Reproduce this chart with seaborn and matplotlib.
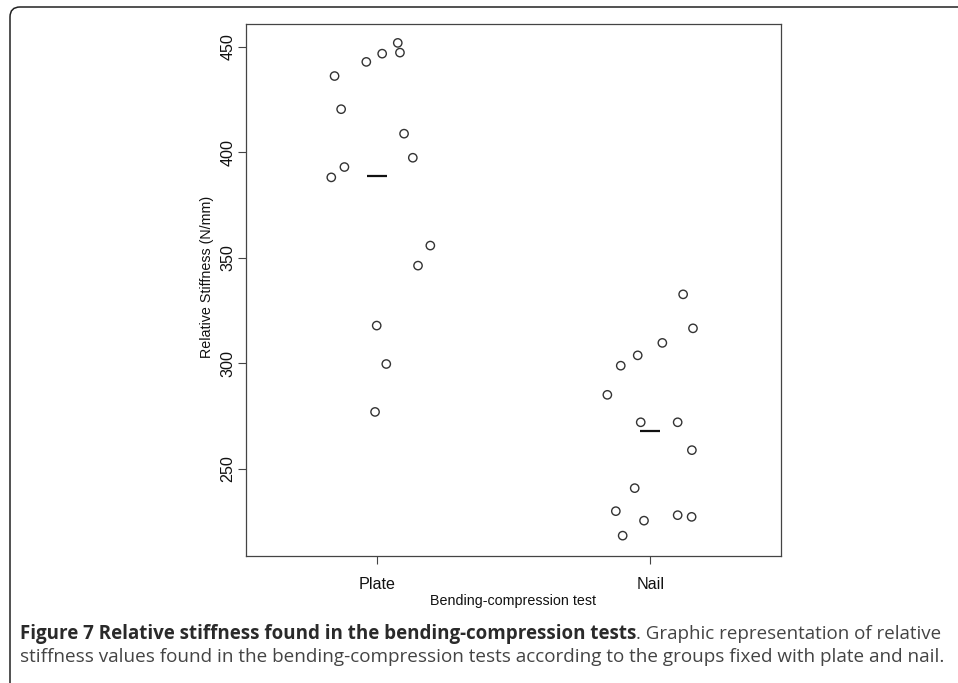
import numpy as np
import pandas as pd
import matplotlib
matplotlib.use("Agg")
import matplotlib.pyplot as plt
import seaborn as sns
from matplotlib import font_manager
from matplotlib.patches import FancyBboxPatch
from matplotlib.transforms import IdentityTransform

# ---------------- data ----------------
categories = ["Plate", "Nail"]
plate_values = [451.8, 446.7, 447.2, 442.8, 436.1, 420.4, 408.8, 397.4,
                393.0, 388.1, 355.8, 346.3, 317.9, 299.7, 277.0]
plate_jitter = [0.077, 0.020, 0.085, -0.038, -0.154, -0.130, 0.100, 0.132,
                -0.118, -0.166, 0.196, 0.151, 0.000, 0.035, -0.006]
nail_values = [332.7, 316.6, 309.7, 303.8, 298.9, 285.1, 272.1, 272.1,
               258.9, 240.9, 230.0, 225.5, 228.1, 227.3, 218.4]
nail_jitter = [0.120, 0.156, 0.044, -0.046, -0.108, -0.157, -0.035, 0.100,
               0.152, -0.057, -0.126, -0.023, 0.100, 0.151, -0.101]
y_ticks = [250, 300, 350, 400, 450]
y_label = "Relative Stiffness (N/mm)"
x_label = "Bending-compression test"
caption_bold = "Figure 7 Relative stiffness found in the bending-compression tests"
caption_rest1 = ". Graphic representation of relative"
caption_line2 = ("stiffness values found in the bending-compression tests according "
                 "to the groups fixed with plate and nail.")

# ---------------- table ----------------
df = pd.DataFrame({
    "group": ["Plate"] * len(plate_values) + ["Nail"] * len(nail_values),
    "stiffness": plate_values + nail_values,
    "jitter": plate_jitter + nail_jitter,
})
df["code"] = df["group"].map({c: i + 1 for i, c in enumerate(categories)})
df["pos"] = df["code"] + df["jitter"]
means = df.groupby("code")["stiffness"].mean()

# ---------------- style ----------------
sns.set_style("white")
plt.rcParams["font.family"] = ["Liberation Sans", "DejaVu Sans"]

W, H = 958, 683
fig = plt.figure(figsize=(W / 100, H / 100), dpi=100)
ax = fig.add_axes([246 / W, 1 - 555.7 / H, (781 - 246) / W, (555.7 - 24) / H])

ink = "#333333"
sns.scatterplot(data=df, x="pos", y="stiffness", ax=ax, marker="o", s=36,
                facecolor="none", edgecolor=ink, linewidth=1.0, legend=False)

ax.hlines(means.values, means.index - 0.036, means.index + 0.036,
          color="#111111", linewidth=1.6)

ax.set_xlim(0.5223, 2.4777)
ax.set_ylim(208.9, 460.75)
ax.set_xticks(range(1, len(categories) + 1))
ax.set_xticklabels(categories)
ax.set_yticks(y_ticks)
ax.set_yticklabels([str(v) for v in y_ticks], rotation=90, va="center")

for sp in ax.spines.values():
    sp.set_visible(True)
    sp.set_color("#444444")
    sp.set_linewidth(0.9)

ax.tick_params(axis="both", which="major", direction="out", length=5.5,
               width=0.8, color="#444444", labelsize=11.6, labelcolor="#111111",
               bottom=True, left=True, top=False, right=False)
ax.tick_params(axis="y", pad=2.0)
ax.tick_params(axis="x", pad=9.5)

ax.set_xlabel(x_label, fontsize=10.3, color="#111111")
ax.set_ylabel(y_label, fontsize=10.3, color="#111111")
ax_h = 555.7 - 24
ax_w = 781 - 246
ax.xaxis.set_label_coords(0.5, -(601 - 555.7) / ax_h)
ax.xaxis.label.set_va("center")
ax.yaxis.set_label_coords((207 - 246) / ax_w, (555.7 - 276.5) / ax_h)
ax.yaxis.label.set_va("center")
ax.yaxis.label.set_ha("center")

# ---------------- outer rounded frame ----------------
frame = FancyBboxPatch((10, -30), 1000, H - 7 + 30,
                       boxstyle="round,pad=0,rounding_size=10",
                       transform=IdentityTransform(), fill=False,
                       edgecolor="#222222", linewidth=1.1)
fig.add_artist(frame)

# ---------------- caption ----------------
available = {f.name for f in font_manager.fontManager.ttflist}
cap_font = "Liberation Sans Narrow" if "Liberation Sans Narrow" in available else "Open Sans"

fig.canvas.draw()
renderer = fig.canvas.get_renderer()

x0 = 20
target_w = 920
t2 = fig.text(x0 / W, 1 - 657 / H, caption_line2, fontsize=12, family=cap_font,
              color="#444444", va="center", ha="left")
w2 = t2.get_window_extent(renderer).width
t2.set_fontsize(12 * target_w / w2)

tb = fig.text(x0 / W, 1 - 634 / H, caption_bold, fontsize=12, family=cap_font,
              fontweight="bold", color="#2a2a2a", va="center", ha="left")
tr = fig.text(0, 1 - 634 / H, caption_rest1, fontsize=12, family=cap_font,
              color="#444444", va="center", ha="left")
wb = tb.get_window_extent(renderer).width
wr = tr.get_window_extent(renderer).width
fs1 = 12 * target_w / (wb + wr)
tb.set_fontsize(fs1)
tr.set_fontsize(fs1)
fig.canvas.draw()
wb = tb.get_window_extent(renderer).width
tr.set_x((x0 + wb) / W)

fig.savefig("out.png", dpi=100)
